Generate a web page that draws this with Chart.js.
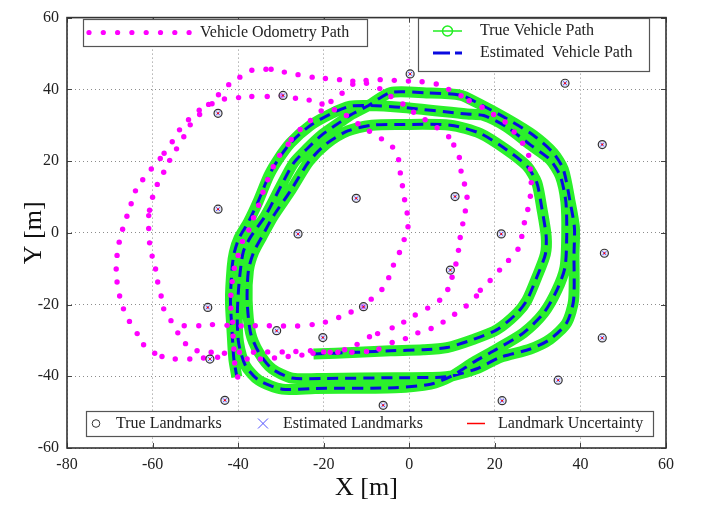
<!DOCTYPE html>
<html>
<head>
<meta charset="UTF-8">
<title>Vehicle path and landmarks</title>
<script src="https://cdn.jsdelivr.net/npm/chart.js"></script>
<style>
  html, body { margin: 0; padding: 0; background: #fff; }
</style>
</head>
<body>
<canvas id="slamChart" width="702" height="506"></canvas>
<script>
// axis ticks
const xTicks = [-80, -60, -40, -20, 0, 20, 40, 60];
const yTicks = [-60, -40, -20, 0, 20, 40, 60];

// true vehicle path (in driving order)
const truePathX = [-22.4, -12, -4.4, 3.3, 8.8, 15, 20.5, 25.2, 27.5, 29.8, 31.8, 32, 31, 29.8, 27.5, 22.8, 16.6, 9.6, -2, -8.7, -14.4, -19.4, -23.5, -27.6, -31.8, -34.4, -36.4, -37.6, -37.9, -37.1, -35.2, -32.1, -27.4, -19.6, -3.3, 7.2, 10,
  15.8, 21.3, 28.3, 32.9, 36.8, 38.4, 38.5, 38.6, 37.6, 36, 33.7, 29, 22.8, 15.8, 11.9, 4, -4.4, -9.5, -13.8, -16, -20.4, -24, -27, -30, -33.5, -37, -38.8, -39.8, -40.2, -39.9, -38.3, -35.2, -29.7, -22, -3.3, 5, 10,
  15, 20.5, 26.7, 31.4, 34.5, 36.4, 36.8, 36.6, 35.3, 32.9, 28.3, 22.8, 17.4, 13.5, -2.1, -9.5, -13.8, -18.1, -23.3, -27.8, -30.6, -32.8, -35.3, -37.6, -39.8, -40.9, -41.4, -41.8, -41.4, -41, -40.3];
const truePathY = [-33.8, -33.3, -32.9, -32.6, -32, -29.7, -27, -22.4, -18.8, -12.4, -6, -1, 6.7, 14, 18.6, 23.1, 27.7, 30, 30.2, 30, 28.4, 24.8, 19.8, 12, 4.6, -1, -5.5, -10.5, -18.8, -27.9, -33.3, -37.9, -40.5, -40.6, -40.4, -40.3, -39.9,
  -37.9, -34.7, -32.4, -29.7, -25.1, -18.8, -6, 1.4, 8.6, 17.7, 22.2, 27.2, 31.8, 36.3, 38.4, 39, 39.1, 35.5, 32.8, 31, 27.3, 23.3, 19.5, 13, 5, -1, -5.3, -14.2, -23.3, -30.6, -37, -41.1, -43.6, -43.4, -43.2, -42.2, -39.9,
  -36.1, -32.4, -27.9, -22.4, -16, -9.6, -0.5, 8.6, 15.8, 20.4, 24.5, 29.5, 32.7, 33.1, 35, 35.5, 35.3, 33.3, 29.8, 25, 20.5, 16, 8.8, 3, -1.5, -5.5, -9.6, -18.8, -27.9, -35.2, -40.2];

// estimated path lies on top of the true one
const estPathX = truePathX;
const estPathY = truePathY;

// vehicle odometry path (dots)
const odoX = [-49.6, -46.3, -43.2, -39.7, -36.4, -33.1, -29.7, -26.5, -23.1, -20, -16.7, -13.4, -10, -7.1,
  -4, -0.9, 2, 5.1, 7.9, 10.6, 13.3, 15.7, 16.6, 18.9, 21.1, 23.2, 25.4, 26.3, 26.9, 27.7, 28.3, 28.5, 28.3, 27.9, 26.5, 24.5, 22.4, 19.7, 17, 14, 12.1, 9.2, 6.3, 3, -0.2, -3.5, -6.8, -10.1, -13.2, -16.3, -19.6, -22.7, -26, -29.2, -32.3, -33.5, -36.8, -39.6, -42.2, -44.6, -46.1, -49.1, -51.6, -53.7, -55.4, -57.3, -58.2, -60.3, -62.3, -64, -65, -66, -67, -67.8, -68.3, -68.5, -68.3, -67.7, -66.8, -65.4, -63.6, -62.1, -59.5, -57.8, -54.7, -51.3, -48.1, -44.8, -37.9, -34.8, -31.5, -28.3, -25.1, -22.5, -18.5, -15.1,
  -12.2, -9.3, -7.4, -4, -1.3, 1.4, 4.3, 7.1, 9, 10, 10.9, 11.5, 11.9, 12.5, 13.1, 13.5, 12.9, 12.1, 11.7, 10.4, 9.2, 6.5, 3.7, 1, -1.5, -4.3, -6.9, -10, -13.2, -15.7, -18.3, -20.4, -23.4, -26.6, -29.9, -33.2, -36.8, -39.9, -43.2, -46.9, -49, -51.2, -52.7, -54.4, -56, -57.4, -58.9, -60, -60.7, -60.9, -60.9, -60.7, -60.1, -59.3, -58.8, -58, -57.4, -55.7, -54.1, -52.3,
  -52.6, -49.2, -46, -42.6, -39.3, -36, -32.7, -29.4, -26.1, -22.7, -19.6, -16.5, -13.6, -10.8, -8.9, -6.4, -4.8, -3.7, -2.3, -1.2, -0.3, -0.5, -1.1, -1.6, -2.1, -2.5, -3.9, -6.5, -9.3, -12, -14.7, -17.5, -20.6, -23.1, -25.5, -27.6, -28.3, -30.3, -31.8, -33.1, -34.2, -35.2, -36.4, -37.5, -39, -40, -40.9, -41.4, -41.7, -41.7, -41.3, -41.2, -41, -40.8, -40.1];
const odoY = [-32.9, -33.3, -33.6, -33.3, -33.3, -33.2, -33.2, -33.1, -32.9, -33.2, -33.3, -33.3, -33.1, -32.4,
  -30.6, -29.5, -27.9, -26.7, -24.9, -22.7, -20.4, -17.6, -16, -13.3, -10.4, -7.7, -4.6, -1, 2.8, 6.5, 10.2, 14, 17.8, 21.6, 25, 28.1, 30.9, 33, 35, 36.8, 38.2, 40, 41.5, 42.1, 42.3, 42.5, 42.7, 42.5, 42.3, 42.7, 43, 43.4, 44.1, 44.8, 45.6, 45.6, 45.3, 43.4, 41.3, 38.5, 36, 34.2, 31.5, 28.7, 25.4, 22.2, 20.7, 17.8, 14.8, 11.7, 8.1, 4.6, 1, -2.6, -6.3, -10.1, -13.7, -17.6, -21.2, -24.7, -28.1, -31.2, -33.6, -34.5, -35.2, -35.2, -34.9, -34.7, -35.2, -35.2, -34.9, -34.5, -34.1, -33.6, -33.3, -32.6,
  -31.1, -29, -28.1, -26.5, -24.9, -22.9, -21, -18.8, -15.8, -12.4, -8.7, -4.9, -1.3, 2.5, 6.1, 9.9, 13.6, 17.2, 21, 24.5, 26.8, 29.3, 31.5, 33.6, 35.9, 38, 40.2, 41.7, 41.4, 38.9, 36.6, 35.9, 37, 37.5, 38.2, 38, 38, 37.7, 37.3, 35.8, 33, 30.1, 26.8, 23.4, 20.2, 16.9, 13.5, 9.9, 6.3, 4.8, 1.2, -2.8, -6.5, -10.1, -13.7, -17.6, -21.2, -24.5, -27.9, -30.9,
  -25.9, -25.9, -25.6, -25.8, -26, -25.9, -25.9, -26, -26, -25.6, -24.9, -23.6, -22.1, -20.6, -18.5, -15.8, -12.5, -9, -5.5, -1.9, 1.7, 5.5, 9.2, 13.1, 16.7, 20.4, 23.9, 26.2, 28.3, 30.4, 32.7, 34.3, 34, 31.3, 28.8, 26, 24.7, 21.6, 18.4, 14.8, 11.3, 7.7, 4.2, 0.8, -2.4, -6.3, -9.9, -13.6, -17.4, -21, -24.9, -28.8, -32.4, -36.3, -40.2];

// landmarks (true and estimated coincide)
const landmarkX = [-44.7, -29.5, -44.7, -26, 0.2, 36.4, 45.1, -12.4, 10.7, 21.5, 45.6, -47.1, -31, -20.2, -46.6, -43.1, 9.6, -10.7, 45.1, 34.8, 21.7, -6.1];
const landmarkY = [33.3, 38.3, 6.6, -0.3, 44.3, 41.7, 24.6, 9.6, 10.1, -0.3, -5.7, -20.8, -27.3, -29.2, -35.2, -46.7, -10.4, -20.6, -29.3, -41.1, -46.8, -48.1];

const legendTop = ['Vehicle Odometry Path'];
const legendRight = ['True Vehicle Path', 'Estimated  Vehicle Path'];
const legendBottom = ['True Landmarks', 'Estimated Landmarks', 'Landmark Uncertainty'];

const pts = (xs, ys) => xs.map((v, i) => ({ x: v, y: ys[i] }));

const SERIF = "'Liberation Serif', 'DejaVu Serif', serif";
const TEXT = '#222';

// frame round the plot plus the small inward tick marks
const framePlugin = {
  id: 'frame',
  afterDatasetsDraw(chart) {
    const { ctx, chartArea: a, scales: { x, y } } = chart;
    ctx.save();
    ctx.strokeStyle = '#444';
    ctx.lineWidth = 1;
    ctx.beginPath();
    xTicks.forEach(v => {
      const px = Math.round(x.getPixelForValue(v)) + 0.5;
      ctx.moveTo(px, a.bottom); ctx.lineTo(px, a.bottom - 5);
      ctx.moveTo(px, a.top); ctx.lineTo(px, a.top + 5);
    });
    yTicks.forEach(v => {
      const py = Math.round(y.getPixelForValue(v)) + 0.5;
      ctx.moveTo(a.left, py); ctx.lineTo(a.left + 5, py);
      ctx.moveTo(a.right, py); ctx.lineTo(a.right - 5, py);
    });
    ctx.stroke();
    ctx.lineWidth = 1.6;
    ctx.strokeStyle = '#333';
    ctx.strokeRect(a.left, a.top, a.right - a.left, a.bottom - a.top);
    ctx.restore();
  }
};

// the three legend boxes of the original figure
const legendPlugin = {
  id: 'boxes',
  afterDraw(chart) {
    const ctx = chart.ctx;
    ctx.save();
    ctx.font = '16px ' + SERIF;
    ctx.textBaseline = 'middle';
    ctx.textAlign = 'left';

    function box(x0, y0, x1, y1) {
      ctx.fillStyle = '#fff';
      ctx.fillRect(x0, y0, x1 - x0, y1 - y0);
      ctx.strokeStyle = '#555';
      ctx.lineWidth = 1.2;
      ctx.strokeRect(x0 + 0.5, y0 + 0.5, x1 - x0, y1 - y0);
    }

    // odometry
    box(83, 19, 367, 46);
    ctx.fillStyle = '#ff00ff';
    for (let i = 0; i < 8; i++) {
      ctx.beginPath();
      ctx.arc(89 + i * 14.3, 32.5, 2.6, 0, Math.PI * 2);
      ctx.fill();
    }
    ctx.fillStyle = TEXT;
    ctx.fillText(legendTop[0], 200, 33);

    // vehicle paths
    box(418, 18, 649, 71);
    ctx.strokeStyle = '#22ee22';
    ctx.lineWidth = 1.5;
    ctx.beginPath(); ctx.moveTo(433, 31); ctx.lineTo(462, 31); ctx.stroke();
    ctx.beginPath(); ctx.arc(447.5, 31, 5, 0, Math.PI * 2); ctx.stroke();
    ctx.strokeStyle = '#0a0ae0';
    ctx.lineWidth = 3;
    ctx.setLineDash([17, 5]);
    ctx.beginPath(); ctx.moveTo(433, 53); ctx.lineTo(462, 53); ctx.stroke();
    ctx.setLineDash([]);
    ctx.fillStyle = TEXT;
    ctx.fillText(legendRight[0], 480, 31);
    ctx.fillText(legendRight[1], 480, 53);

    // landmarks
    box(86, 411, 653, 436);
    ctx.strokeStyle = '#333';
    ctx.lineWidth = 1;
    ctx.beginPath(); ctx.arc(96, 423.5, 3.8, 0, Math.PI * 2); ctx.stroke();
    ctx.strokeStyle = '#5050ff';
    ctx.beginPath();
    ctx.moveTo(258, 418.5); ctx.lineTo(268, 428.5);
    ctx.moveTo(268, 418.5); ctx.lineTo(258, 428.5);
    ctx.stroke();
    ctx.strokeStyle = '#ff0000';
    ctx.lineWidth = 1.5;
    ctx.beginPath(); ctx.moveTo(467, 423.5); ctx.lineTo(485, 423.5); ctx.stroke();
    ctx.fillStyle = TEXT;
    ctx.fillText(legendBottom[0], 116, 424);
    ctx.fillText(legendBottom[1], 283, 424);
    ctx.fillText(legendBottom[2], 498, 424);
    ctx.restore();
  }
};

new Chart(document.getElementById('slamChart'), {
  type: 'scatter',
  data: {
    datasets: [
      {
        label: 'Landmark Uncertainty',
        data: pts(landmarkX, landmarkY),
        pointRadius: 1,
        pointBackgroundColor: '#ff0000',
        pointBorderColor: '#ff0000',
        pointBorderWidth: 0
      },
      {
        label: 'Estimated Landmarks',
        data: pts(landmarkX, landmarkY),
        pointStyle: 'crossRot',
        pointRadius: 2.8,
        pointBorderColor: '#4a4aff',
        pointBorderWidth: 1
      },
      {
        label: 'True Landmarks',
        data: pts(landmarkX, landmarkY),
        pointStyle: 'circle',
        pointRadius: 4,
        pointBackgroundColor: 'rgba(215,215,235,0.6)',
        pointBorderColor: '#333',
        pointBorderWidth: 1.2
      },
      {
        label: 'Vehicle Odometry Path',
        data: pts(odoX, odoY),
        pointRadius: 2.7,
        pointBackgroundColor: '#ff00ff',
        pointBorderWidth: 0
      },
      {
        label: 'Estimated Vehicle Path',
        data: pts(estPathX, estPathY),
        showLine: true,
        borderColor: '#0a0ae0',
        borderWidth: 3,
        borderDash: [11, 7],
        tension: 0.25,
        pointRadius: 0
      },
      {
        label: 'True Vehicle Path',
        data: pts(truePathX, truePathY),
        showLine: true,
        borderColor: '#2bf02b',
        borderWidth: 11,
        borderCapStyle: 'butt',
        borderJoinStyle: 'round',
        tension: 0.25,
        pointRadius: 0
      }
    ]
  },
  options: {
    responsive: false,
    animation: false,
    devicePixelRatio: 1,
    layout: { padding: { top: 9, right: 36, left: 0, bottom: 0 } },
    plugins: { legend: { display: false }, tooltip: { enabled: false } },
    scales: {
      x: {
        type: 'linear',
        min: -80,
        max: 60,
        afterBuildTicks: s => { s.ticks = xTicks.map(v => ({ value: v })); },
        afterFit: s => { s.height = 58; },
        grid: { color: '#8c8c8c', lineWidth: 1, drawTicks: false },
        border: { display: false, dash: [1, 3] },
        ticks: { color: TEXT, padding: 7, maxRotation: 0, autoSkip: false, font: { family: SERIF, size: 16 } },
        title: { display: true, text: 'X [m]', color: '#111', font: { family: SERIF, size: 26 }, padding: { top: 0, bottom: 2 } }
      },
      y: {
        type: 'linear',
        min: -60,
        max: 60,
        afterBuildTicks: s => { s.ticks = yTicks.map(v => ({ value: v })); },
        afterFit: s => { s.width = 67; },
        grid: { color: '#8c8c8c', lineWidth: 1, drawTicks: false },
        border: { display: false, dash: [1, 3] },
        ticks: { color: TEXT, padding: 8, autoSkip: false, font: { family: SERIF, size: 16 } },
        title: { display: true, text: 'Y [m]', color: '#111', font: { family: SERIF, size: 26 }, padding: { top: 19, bottom: 0 } }
      }
    }
  },
  plugins: [framePlugin, legendPlugin]
});
</script>
</body>
</html>
